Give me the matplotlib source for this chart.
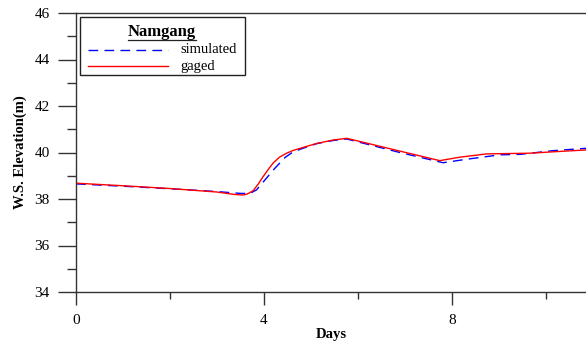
import matplotlib.pyplot as plt
from matplotlib.ticker import MultipleLocator
from matplotlib.patches import Rectangle

plt.rcParams['font.family'] = ['Liberation Serif', 'DejaVu Serif']

# gaged (red)
gaged_x = [0, 1, 2, 3, 3.35, 3.55, 3.65, 3.77, 3.88, 3.98, 4.1, 4.2, 4.33, 4.48, 4.62, 4.77,
           5.12, 5.48, 5.76, 6.89, 7.74, 8.17, 8.74, 9.66, 10.15, 10.85]
gaged_y = [38.68, 38.57, 38.45, 38.3, 38.2, 38.17, 38.22, 38.36, 38.65, 38.96, 39.3, 39.56, 39.8,
           39.97, 40.09, 40.18, 40.39, 40.54, 40.61, 40.06, 39.65, 39.8, 39.94, 39.97, 40.03, 40.11]

# simulated (blue)
sim_x = [0, 1, 2, 3, 3.5, 3.7, 3.84, 4.02, 4.23, 4.45, 4.6, 4.77, 5.12, 5.48, 5.76, 6.89,
         7.81, 8.31, 9.02, 9.45, 10.15, 10.85]
sim_y = [38.65, 38.55, 38.44, 38.32, 38.24, 38.24, 38.39, 38.82, 39.32, 39.79, 40.0, 40.14,
         40.38, 40.52, 40.58, 40.0, 39.56, 39.71, 39.9, 39.92, 40.08, 40.18]

x_ticks = [0, 4, 8]
y_ticks = [34, 36, 38, 40, 42, 44, 46]

fig = plt.figure(figsize=(5.86, 3.43), dpi=100)
ax = fig.add_axes([76/586, 51/343, 510/586, 279/343])

ax.plot(sim_x, sim_y, color='blue', lw=1, dashes=(7, 4.5))
ax.plot(gaged_x, gaged_y, color='red', lw=1)

ax.set_xlim(0, 10.85)
ax.set_ylim(34, 46)
ax.set_xticks(x_ticks)
ax.set_yticks(y_ticks)
ax.xaxis.set_minor_locator(MultipleLocator(2))
ax.yaxis.set_minor_locator(MultipleLocator(1))
ax.spines['right'].set_visible(False)
for s in ['left', 'top', 'bottom']:
    ax.spines[s].set_color('#333333')
    ax.spines[s].set_linewidth(1)

ax.tick_params(axis='y', which='major', length=13, width=1, color='#333333', labelsize=11, pad=6)
ax.tick_params(axis='y', which='minor', length=6.5, width=1, color='#333333')
ax.tick_params(axis='x', which='major', length=9.5, width=1, color='#333333', labelsize=11, pad=6)
ax.tick_params(axis='x', which='minor', length=5, width=1, color='#333333')

ax.set_xlabel('Days', fontweight='bold', fontsize=10.5, labelpad=1)
ax.set_ylabel('W.S. Elevation(m)', fontweight='bold', fontsize=10.5, labelpad=5)

# legend box drawn by hand
ax.add_patch(Rectangle((0.008, 0.778), 0.323, 0.208, transform=ax.transAxes,
                       fill=False, ec='#222222', lw=1, zorder=5))
ax.text(0.169, 0.932, 'Namgang', transform=ax.transAxes, ha='center', va='center',
        fontweight='bold', fontsize=12, zorder=6)
ax.plot([0.102, 0.236], [0.905, 0.905], transform=ax.transAxes, color='#222222', lw=0.9)
ax.plot([0.0235, 0.18], [0.869, 0.869], transform=ax.transAxes, color='blue', lw=1, dashes=(7, 4.5))
ax.plot([0.0235, 0.18], [0.811, 0.811], transform=ax.transAxes, color='red', lw=1)
ax.text(0.204, 0.868, 'simulated', transform=ax.transAxes, va='center', fontsize=10.5)
ax.text(0.204, 0.81, 'gaged', transform=ax.transAxes, va='center', fontsize=10.5)

fig.savefig('out.png', dpi=100)
